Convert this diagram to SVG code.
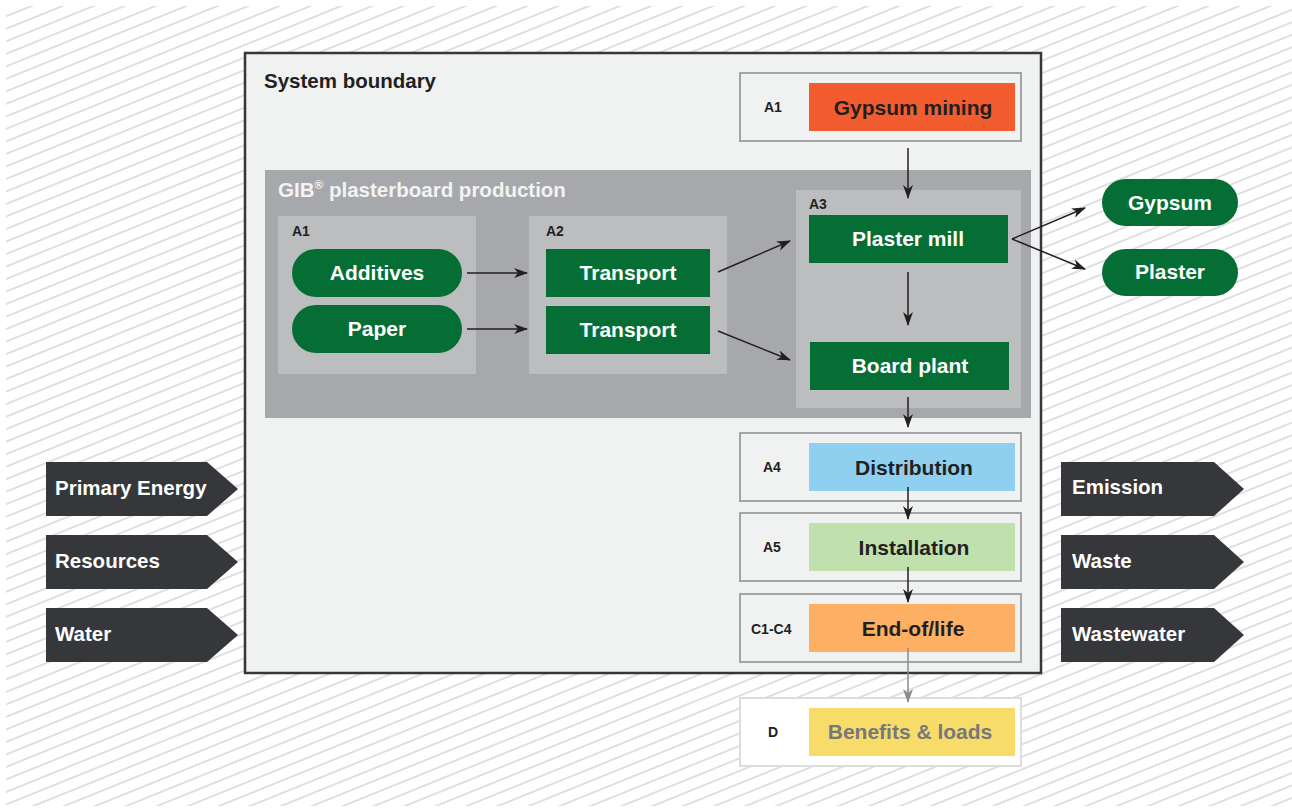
<svg xmlns="http://www.w3.org/2000/svg" width="1292" height="808" viewBox="0 0 1292 808">
<defs>
<pattern id="hatch" patternUnits="userSpaceOnUse" width="12" height="11.6" patternTransform="rotate(-22)">
<rect width="12" height="11.6" fill="#ffffff"/>
<line x1="-1" y1="5.8" x2="13" y2="5.8" stroke="#d9d9d9" stroke-width="1.6"/>
</pattern>
<marker id="ah" markerWidth="14" markerHeight="10" refX="13" refY="5" orient="auto" markerUnits="userSpaceOnUse">
<path d="M0,0 L14,5 L0,10 L4,5 z" fill="#231f20"/>
</marker>
<marker id="ahg" markerWidth="14" markerHeight="10" refX="13" refY="5" orient="auto" markerUnits="userSpaceOnUse">
<path d="M0,0 L14,5 L0,10 L4,5 z" fill="#8a8b8e"/>
</marker>
</defs>
<style>
text{font-family:"Liberation Sans",Arial,Helvetica,sans-serif;font-weight:bold}
.lbl{font-size:14px;fill:#231f20}
.big{font-size:21px;text-anchor:middle}
.w{fill:#ffffff}
.d{fill:#231f20}
.green{fill:#046e34}
.stage{fill:#f0f1f1;stroke:#a4a5a8;stroke-width:2}
.sub{fill:#bcbdbf}
.chev{fill:#35373b}
.conn line{stroke:#231f20;stroke-width:1.5;marker-end:url(#ah)}
</style>
<rect x="0" y="0" width="1292" height="808" fill="#ffffff"/>
<rect x="6" y="6" width="1286" height="800" fill="url(#hatch)"/>

<g id="system-boundary">
<rect x="245" y="53" width="796" height="620" fill="#f0f1f1" stroke="#35373b" stroke-width="2.5"/>
<text x="264" y="88" font-size="20.5" class="d">System boundary</text>
</g>

<g id="gib-production">
<rect x="265" y="170" width="766" height="248" fill="#a7a8ab"/>
<text x="278" y="197" font-size="20.5" fill="#f3f3f3">GIB<tspan font-size="12" dy="-8">®</tspan><tspan dy="8"> plasterboard production</tspan></text>
</g>

<g id="stage-a1-gypsum">
<rect class="stage" x="740" y="73" width="281" height="68"/>
<text class="lbl" x="764" y="112">A1</text>
<rect x="809" y="83" width="206" height="48" fill="#f25c2e"/>
<text class="big d" x="913" y="115">Gypsum mining</text>
</g>

<g id="group-a1">
<rect class="sub" x="278" y="216" width="198" height="158"/>
<text class="lbl" x="292" y="236">A1</text>
</g>
<g id="additives">
<rect class="green" x="292" y="249" width="170" height="48" rx="24"/>
<text class="big w" x="377" y="280">Additives</text>
</g>
<g id="paper">
<rect class="green" x="292" y="305" width="170" height="48" rx="24"/>
<text class="big w" x="377" y="336">Paper</text>
</g>

<g id="group-a2">
<rect class="sub" x="529" y="216" width="198" height="158"/>
<text class="lbl" x="546" y="236">A2</text>
</g>
<g id="transport1">
<rect class="green" x="546" y="249" width="164" height="48"/>
<text class="big w" x="628" y="280">Transport</text>
</g>
<g id="transport2">
<rect class="green" x="546" y="306" width="164" height="48"/>
<text class="big w" x="628" y="337">Transport</text>
</g>

<g id="group-a3">
<rect class="sub" x="796" y="190" width="225" height="218"/>
<text class="lbl" x="809" y="209">A3</text>
</g>
<g id="plaster-mill">
<rect class="green" x="809" y="215" width="199" height="48"/>
<text class="big w" x="908" y="246">Plaster mill</text>
</g>
<g id="board-plant">
<rect class="green" x="810" y="342" width="199" height="48"/>
<text class="big w" x="910" y="373">Board plant</text>
</g>

<g id="gypsum">
<rect class="green" x="1102" y="179" width="136" height="47" rx="23.5"/>
<text class="big w" x="1170" y="210">Gypsum</text>
</g>
<g id="plaster">
<rect class="green" x="1102" y="249" width="136" height="47" rx="23.5"/>
<text class="big w" x="1170" y="279">Plaster</text>
</g>

<g id="stage-a4">
<rect class="stage" x="740" y="433" width="281" height="68"/>
<text class="lbl" x="763" y="472">A4</text>
<rect x="809" y="443" width="206" height="48" fill="#8fd0f0"/>
<text class="big d" x="914" y="475">Distribution</text>
</g>
<g id="stage-a5">
<rect class="stage" x="740" y="513" width="281" height="68"/>
<text class="lbl" x="763" y="552">A5</text>
<rect x="809" y="523" width="206" height="48" fill="#c0e0ae"/>
<text class="big d" x="914" y="555">Installation</text>
</g>
<g id="stage-c1c4">
<rect class="stage" x="740" y="594" width="281" height="68"/>
<text class="lbl" x="751" y="634">C1-C4</text>
<rect x="809" y="604" width="206" height="48" fill="#fdb064"/>
<text class="big d" x="913" y="636">End-of/life</text>
</g>
<g id="stage-d">
<rect x="740" y="698" width="281" height="68" fill="#ffffff" stroke="#dcdddd" stroke-width="2"/>
<text class="lbl" x="768" y="737">D</text>
<rect x="809" y="708" width="206" height="48" fill="#f8dc6a"/>
<text class="big" x="910" y="739" fill="#77787b">Benefits &amp; loads</text>
</g>

<g id="in-primary-energy">
<path class="chev" d="M46,462 H207 L238,489 L207,516 H46 z"/>
<text x="55" y="495" font-size="20.5" class="w">Primary Energy</text>
</g>
<g id="in-resources">
<path class="chev" d="M46,535 H207 L238,562 L207,589 H46 z"/>
<text x="55" y="568" font-size="20.5" class="w">Resources</text>
</g>
<g id="in-water">
<path class="chev" d="M46,608 H207 L238,635 L207,662 H46 z"/>
<text x="55" y="641" font-size="20.5" class="w">Water</text>
</g>
<g id="out-emission">
<path class="chev" d="M1061,462 H1214 L1244,489 L1214,516 H1061 z"/>
<text x="1072" y="494" font-size="20.5" class="w">Emission</text>
</g>
<g id="out-waste">
<path class="chev" d="M1061,535 H1214 L1244,562 L1214,589 H1061 z"/>
<text x="1072" y="568" font-size="20.5" class="w">Waste</text>
</g>
<g id="out-wastewater">
<path class="chev" d="M1061,608 H1214 L1244,635 L1214,662 H1061 z"/>
<text x="1072" y="641" font-size="20.5" class="w">Wastewater</text>
</g>

<g id="connectors" class="conn">
<line x1="467" y1="273" x2="527" y2="273"/>
<line x1="467" y1="329" x2="527" y2="329"/>
<line x1="718" y1="272" x2="790" y2="241"/>
<line x1="718" y1="331" x2="790" y2="360"/>
<line x1="908" y1="148" x2="908" y2="198"/>
<line x1="908" y1="272" x2="908" y2="325"/>
<line x1="908" y1="397" x2="908" y2="427"/>
<line x1="908" y1="487" x2="908" y2="519"/>
<line x1="908" y1="567" x2="908" y2="602"/>
<line x1="1012" y1="239" x2="1085" y2="208"/>
<line x1="1012" y1="239" x2="1085" y2="269"/>
<line x1="908" y1="648" x2="908" y2="702" style="stroke:#8a8b8e;marker-end:url(#ahg)"/>
</g>
</svg>
